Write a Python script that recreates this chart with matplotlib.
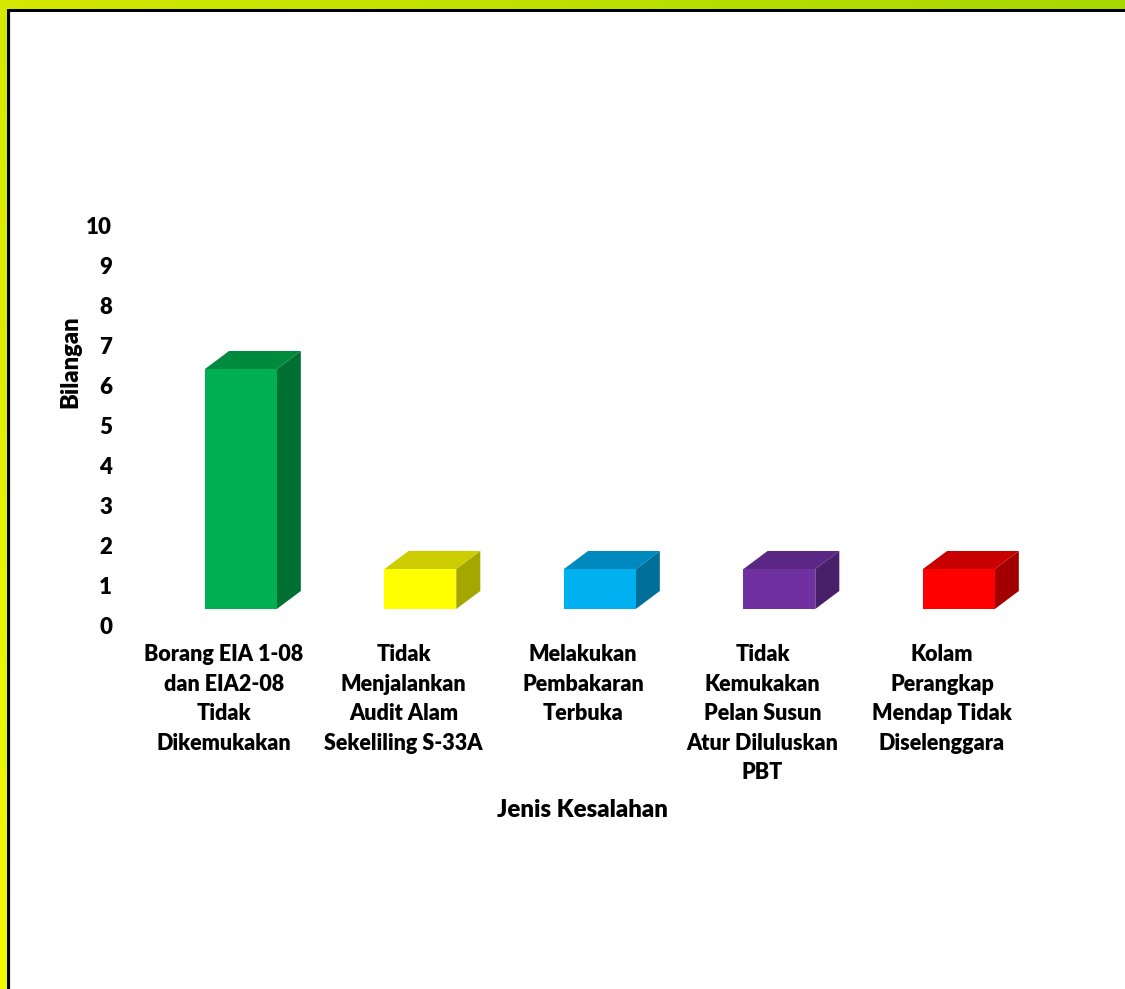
import numpy as np
import matplotlib
matplotlib.use('Agg')
import matplotlib.pyplot as plt
from matplotlib.patches import Polygon

# data
categories = ['Borang EIA 1-08\ndan EIA2-08\nTidak\nDikemukakan',
              'Tidak\nMenjalankan\nAudit Alam\nSekeliling S-33A',
              'Melakukan\nPembakaran\nTerbuka',
              'Tidak\nKemukakan\nPelan Susun\nAtur Diluluskan\nPBT',
              'Kolam\nPerangkap\nMendap Tidak\nDiselenggara']
values = [6, 1, 1, 1, 1]
front_colors = ['#00B050', '#FFFF00', '#00B0F0', '#7030A0', '#FF0000']
top_colors = ['#008A3E', '#CCCC00', '#0089BE', '#5A2784', '#C80000']
side_colors = ['#006F32', '#A6A600', '#006F99', '#48206A', '#A20000']
y_ticks = list(range(0, 11))

W, H = 1125, 989
fig = plt.figure(figsize=(W / 100, H / 100), dpi=100)
fig.patch.set_facecolor('white')

# frame: gradient border + black line
xs = np.linspace(0, 1, W)[None, :, None]
ys = np.linspace(0, 1, H)[:, None, None]
c_tl = np.array([212, 232, 0]) / 255
c_tr = np.array([166, 216, 0]) / 255
c_bl = np.array([242, 250, 0]) / 255
img = c_tl + (c_tr - c_tl) * xs + (c_bl - c_tl) * ys
img = np.clip(img, 0, 1)
img[12:, 10:, :] = 1.0
img[12:, 10, :] = 0.90
img[9:12, 7:, :] = 0.0
img[9:, 7:10, :] = 0.0
fig.figimage(img, 0, 0, zorder=-10)

# axes placed so 0..10 spans pixel rows 625..225
left, right = 134.25, 1031.75
y0_px, y10_px = 625, 225
ax = fig.add_axes([left / W, (H - y0_px) / H, (right - left) / W, (y0_px - y10_px) / H])
ax.set_zorder(1)
ax.set_facecolor('none')
ax.set_xlim(-0.5, 4.5)
ax.set_ylim(0, 10)

floor = 0.4       # 3d floor offset of the front faces
off = -0.106      # front face left edge relative to category center
bw = 0.40         # front face width
dx, dy = 0.134, 0.45  # depth of the boxes

pos = np.arange(len(values))
ax.bar(pos + off, values, width=bw, bottom=floor, align='edge',
       color=front_colors, edgecolor='none', zorder=3)
for i, v in enumerate(values):
    x0 = pos[i] + off
    x1 = x0 + bw
    yt = floor + v
    top = Polygon([(x0, yt), (x1, yt), (x1 + dx, yt + dy), (x0 + dx, yt + dy)],
                  closed=True, facecolor=top_colors[i], edgecolor='none', zorder=3)
    side = Polygon([(x1, floor), (x1 + dx, floor + dy), (x1 + dx, yt + dy), (x1, yt)],
                   closed=True, facecolor=side_colors[i], edgecolor='none', zorder=2)
    ax.add_patch(top)
    ax.add_patch(side)

for s in ax.spines.values():
    s.set_visible(False)

font = 'Lato'
ax.set_yticks(y_ticks)
ax.set_yticklabels([str(t) for t in y_ticks], fontfamily=font, fontweight='heavy', fontsize=16)
ax.set_xticks(pos)
ax.set_xticklabels(categories, fontfamily=font, fontweight='heavy', fontsize=15.5,
                   linespacing=1.5)
ax.tick_params(axis='y', length=0, pad=16)
ax.tick_params(axis='x', length=0, pad=14)

fig.text(70 / W, 1 - 362 / H, 'Bilangan', rotation=90, ha='center', va='center',
         fontfamily=font, fontweight='heavy', fontsize=17)
fig.text(582 / W, 1 - 810 / H, 'Jenis Kesalahan', ha='center', va='center',
         fontfamily=font, fontweight='heavy', fontsize=17.3)

fig.savefig('out.png', dpi=100)
